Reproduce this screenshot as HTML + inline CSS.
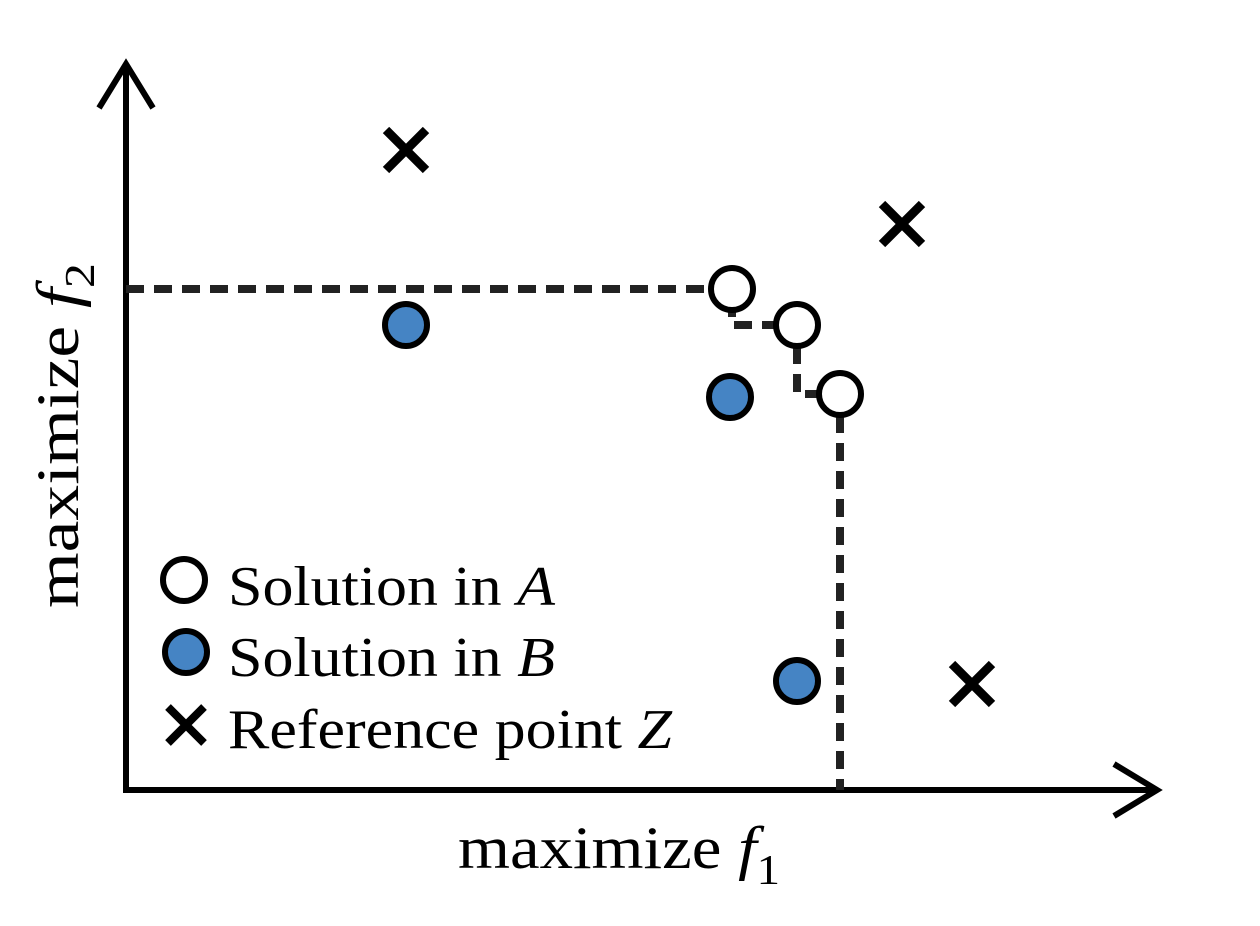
<!DOCTYPE html>
<html><head><meta charset="utf-8"><style>
html,body{margin:0;padding:0;background:#fff;}
svg{display:block;}
text{font-family:"Liberation Serif",serif;fill:#000;}
</style></head><body>
<svg id="chart" width="1260" height="926" viewBox="0 0 1260 926" xmlns="http://www.w3.org/2000/svg">
<g id="axes">
<line x1="126" y1="793" x2="126" y2="64" stroke="#000" stroke-width="6"/>
<polyline points="99,108 126,64 153,108" fill="none" stroke="#000" stroke-width="6"/>
<line x1="123" y1="790" x2="1157" y2="790" stroke="#000" stroke-width="6"/>
<polyline points="1114,764 1157,790 1114,816" fill="none" stroke="#000" stroke-width="6"/>
</g>
<g id="dash"></g>
<g id="marks"></g>
<text x="458" y="868" font-size="60" textLength="322" lengthAdjust="spacingAndGlyphs">maximize <tspan font-style="italic">f</tspan><tspan font-size="42" dy="16">1</tspan></text>
<text transform="translate(78,608) rotate(-90)" font-size="60" textLength="345" lengthAdjust="spacingAndGlyphs">maximize <tspan font-style="italic">f</tspan><tspan font-size="42" dy="16">2</tspan></text>
<g>
<circle cx="184" cy="580" r="21" fill="#fff" stroke="#000" stroke-width="6"/>
<text x="228" y="605" font-size="56" textLength="327" lengthAdjust="spacingAndGlyphs">Solution in <tspan font-style="italic">A</tspan></text>
<circle cx="186" cy="652" r="21" fill="#4584c4" stroke="#000" stroke-width="6"/>
<text x="228" y="676" font-size="56" textLength="327" lengthAdjust="spacingAndGlyphs">Solution in <tspan font-style="italic">B</tspan></text>
<path d="M168,707 L204,743 M204,707 L168,743" stroke="#000" stroke-width="8"/>
<text x="228" y="748" font-size="56" textLength="444" lengthAdjust="spacingAndGlyphs">Reference point <tspan font-style="italic">Z</tspan></text>
</g>
</svg>
<script>
const aF1=[6.06,6.71,7.14];
const aF2=[5.01,4.65,3.96];
const bF1=[2.80,6.04,6.71];
const bF2=[4.65,3.93,1.09];
const zF1=[2.80,7.76,8.46];
const zF2=[6.40,5.66,1.06];
const X0=126,Y0=790,S=100;
function sx(v){return X0+v*S;}
function sy(v){return Y0-v*S;}
const NS="http://www.w3.org/2000/svg";
const dash=document.getElementById('dash'),marks=document.getElementById('marks');
let d="M"+sx(0)+","+sy(aF2[0]);
for(let i=0;i<aF1.length;i++){
  d+=" L"+sx(aF1[i])+","+sy(aF2[i]);
  if(i<aF1.length-1) d+=" L"+sx(aF1[i])+","+sy(aF2[i+1]);
}
d+=" L"+sx(aF1[aF1.length-1])+","+sy(0);
const p=document.createElementNS(NS,'path');
p.setAttribute('d',d);p.setAttribute('fill','none');p.setAttribute('stroke','#222');
p.setAttribute('stroke-width','8');p.setAttribute('stroke-dasharray','18 10');


dash.appendChild(p);
function circ(x,y,fill,name){
  const c=document.createElementNS(NS,'circle');
  c.setAttribute('cx',sx(x));c.setAttribute('cy',sy(y));c.setAttribute('r','21');
  c.setAttribute('fill',fill);c.setAttribute('stroke','#000');c.setAttribute('stroke-width','6');
  
  
  marks.appendChild(c);
}
for(let i=0;i<aF1.length;i++) circ(aF1[i],aF2[i],'#fff','solution-a-point');
for(let i=0;i<bF1.length;i++) circ(bF1[i],bF2[i],'#4584c4','solution-b-point');
for(let i=0;i<zF1.length;i++){
  const x=sx(zF1[i]),y=sy(zF2[i]),r=20;
  const c=document.createElementNS(NS,'path');
  c.setAttribute('d',`M${x-r},${y-r} L${x+r},${y+r} M${x+r},${y-r} L${x-r},${y+r}`);
  c.setAttribute('stroke','#000');c.setAttribute('stroke-width','9');
  
  
  marks.appendChild(c);
}
</script>
</body></html>
